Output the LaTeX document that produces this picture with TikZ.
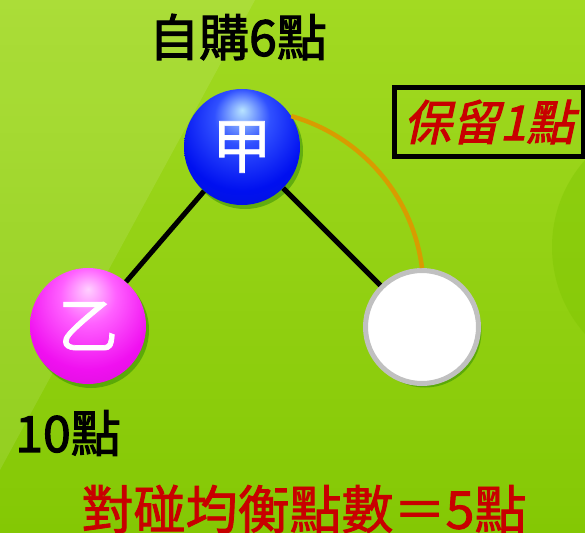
\documentclass[tikz,border=0pt]{standalone}
\usepackage{fontspec}
\newfontfamily\cjk[FakeBold=1.2]{Noto Sans CJK TC}
\newfontfamily\cjkm[FakeBold=2.2]{Noto Sans CJK TC}
\newfontfamily\cjkr[FakeBold=1.6]{Noto Sans CJK TC}
\newfontfamily\cjksl[FakeSlant=0.22,FakeBold=2.2]{Noto Sans CJK TC}
\usetikzlibrary{shadows}
\definecolor{bgtop}{HTML}{A2DA22}
\definecolor{bgbot}{HTML}{84C804}
\definecolor{bgcirc}{HTML}{7CC400}
\definecolor{txtred}{HTML}{C80000}
\definecolor{arcor}{HTML}{D89C00}
\definecolor{ringgray}{HTML}{C0C0C0}
\definecolor{b1}{HTML}{B8E4FF}
\definecolor{b2}{HTML}{3050FF}
\definecolor{b3}{HTML}{0010F0}
\definecolor{b4}{HTML}{0818C0}
\definecolor{b5}{HTML}{101870}
\definecolor{m1}{HTML}{FFD0FF}
\definecolor{m2}{HTML}{FF60FF}
\definecolor{m3}{HTML}{F010F0}
\definecolor{m4}{HTML}{C010C0}
\definecolor{m5}{HTML}{701070}
\pgfdeclareradialshading{jiashade}{\pgfpoint{0bp}{16bp}}{color(0bp)=(b1); color(12bp)=(b2); color(28bp)=(b3); color(52bp)=(b4); color(66bp)=(b5)}
\pgfdeclareradialshading{yishade}{\pgfpoint{0bp}{16bp}}{color(0bp)=(m1); color(12bp)=(m2); color(28bp)=(m3); color(52bp)=(m4); color(66bp)=(m5)}
\tikzset{
  sphere/.style={circle, minimum size=116pt, inner sep=0pt, text=white,
    font=\cjk\fontsize{60}{60}\selectfont,
    drop shadow={shadow xshift=3pt, shadow yshift=-4pt, opacity=0.35, fill=black!60!green}},
  emptyball/.style={circle, minimum size=113pt, inner sep=0pt, fill=white,
    draw=ringgray, line width=5pt,
    drop shadow={shadow xshift=3pt, shadow yshift=-4pt, opacity=0.35, fill=black!60!green}},
  link/.style={draw=black, line width=5pt},
  reserve/.style={draw=arcor, line width=4.5pt},
  blacklabel/.style={text=black, inner sep=0pt, font=\cjkm\fontsize{50}{50}\selectfont},
}
\begin{document}
\begin{tikzpicture}[x=1pt,y=-1pt]
\useasboundingbox (0,0) rectangle (585,532);
\begin{scope}
\clip (0,0) rectangle (585,532);
\shade[top color=bgtop, bottom color=bgbot] (0,0) rectangle (585,532);
\fill[white, opacity=0.10] (0,0) -- (255,0) -- (0,470) -- cycle;
\fill[bgcirc, opacity=0.4] (683,247) circle[radius=131];
\end{scope}
% spheres
\node[sphere, shading=jiashade] (jia) at (242,147) {甲};
\node[sphere, shading=yishade] (yi) at (88,326) {乙};
\node[emptyball] (empty) at (422,327) {};
% connectors
\draw[link] (jia) -- (yi);
\draw[link] (jia) -- (empty);
\draw[reserve] (jia.32) .. controls +(70,20) and +(-9,-72) .. (empty.north);
% labels
\node[blacklabel] (buy) at (238,37) {自購6點};
\node[blacklabel] (ten) at (68,433) {10點};
\node[draw=black, line width=5pt, minimum width=189pt, minimum height=68pt, inner sep=0pt,
  text=txtred, font=\cjksl\fontsize{48}{48}\selectfont] (keep) at (489,122) {保留1點};
\node[text=txtred, inner sep=0pt, font=\cjkr\fontsize{52}{52}\selectfont] (bal) at (304,509) {對碰均衡點數＝5點};
\end{tikzpicture}
\end{document}
